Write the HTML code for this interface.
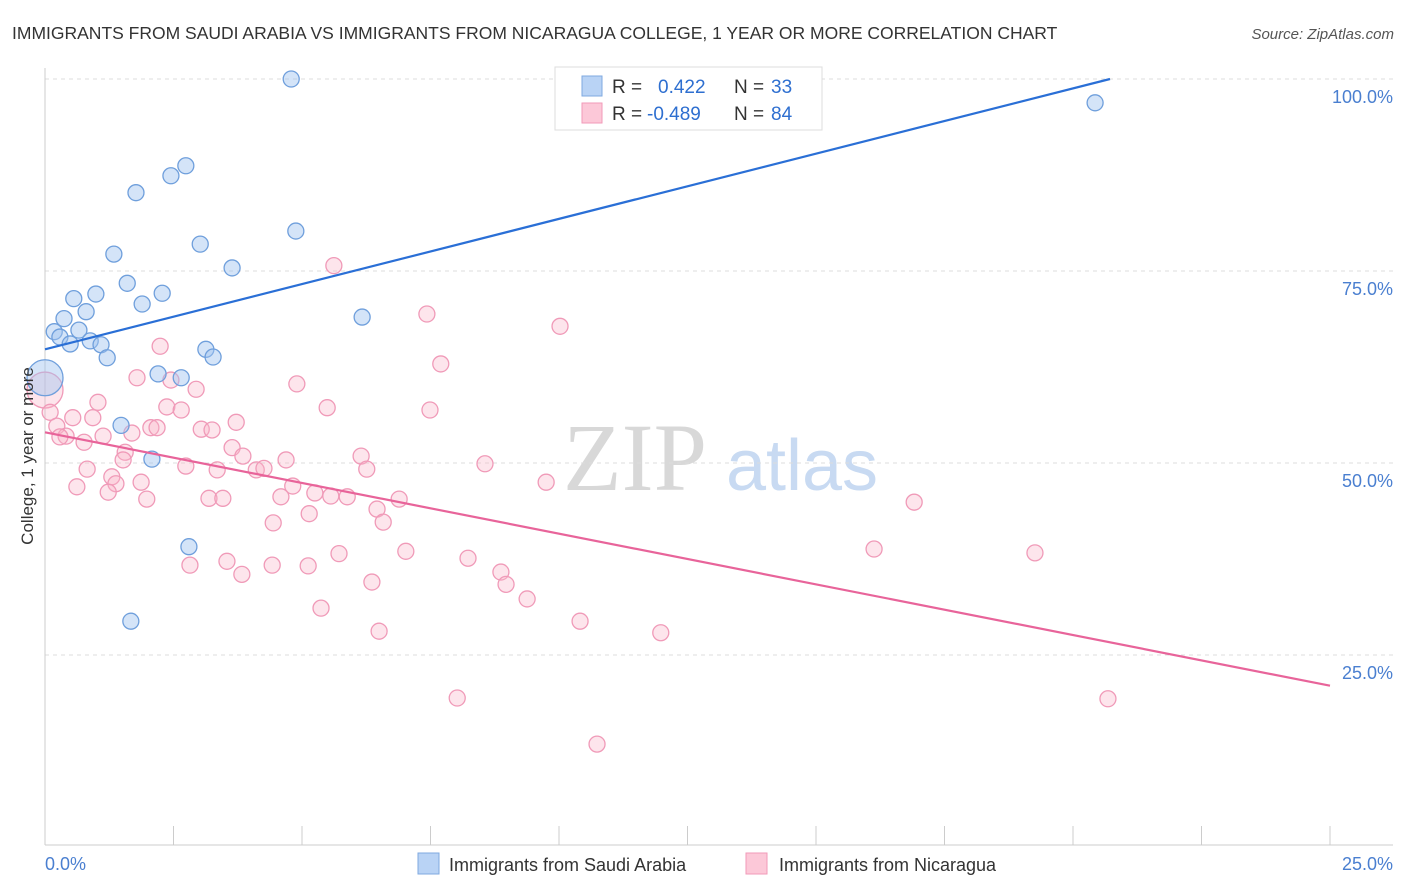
<!DOCTYPE html>
<html><head><meta charset="utf-8">
<style>
body{margin:0;background:#fff;font-family:"Liberation Sans",sans-serif;}
svg{display:block}
</style></head>
<body>
<svg id="chart" width="1406" height="892" viewBox="0 0 1406 892" xmlns="http://www.w3.org/2000/svg">
<text x="12" y="39" font-size="17.5" fill="#333">IMMIGRANTS FROM SAUDI ARABIA VS IMMIGRANTS FROM NICARAGUA COLLEGE, 1 YEAR OR MORE CORRELATION CHART</text>
<text x="1394" y="39" font-size="15" fill="#555" font-style="italic" text-anchor="end">Source: ZipAtlas.com</text>
<g>
<text x="635" y="490" font-size="96" font-family="Liberation Serif,serif" fill="#d8d8d8" text-anchor="middle">ZIP</text>
<text x="802" y="490" font-size="72" fill="#c8daf2" text-anchor="middle">atlas</text>
</g>
<g id="grid"></g>
<g id="axes"></g>
<g id="marks"></g>
<g>
<rect x="555" y="67" width="267" height="63" fill="#fff" stroke="#ddd"/>
<rect x="582" y="76" width="20" height="20" fill="#b9d3f5" stroke="#7fa9e0"/>
<rect x="582" y="103" width="20" height="20" fill="#fcc8d8" stroke="#f29ab8"/>
<text x="612" y="93" font-size="19" fill="#333">R = </text><text x="658" y="93" font-size="19" fill="#2e6fd0">0.422</text>
<text x="734" y="93" font-size="19" fill="#333">N = </text><text x="771" y="93" font-size="19" fill="#2e6fd0">33</text>
<text x="612" y="120" font-size="19" fill="#333">R = </text><text x="647" y="120" font-size="19" fill="#2e6fd0">-0.489</text>
<text x="734" y="120" font-size="19" fill="#333">N = </text><text x="771" y="120" font-size="19" fill="#2e6fd0">84</text>
</g>
<g>
<rect x="418" y="853" width="21" height="21" fill="#b9d3f5" stroke="#7fa9e0"/>
<text x="449" y="871" font-size="18" fill="#333">Immigrants from Saudi Arabia</text>
<rect x="746" y="853" width="21" height="21" fill="#fcc8d8" stroke="#f29ab8"/>
<text x="779" y="871" font-size="18" fill="#333">Immigrants from Nicaragua</text>
</g>
<text transform="translate(33,456) rotate(-90)" font-size="17" fill="#333" text-anchor="middle">College, 1 year or more</text>
</svg>
<script>
const yTicks=[25,50,75,100];
const yTickLabels=["25.0%","50.0%","75.0%","100.0%"];
const xTickVals=[0,2.5,5,7.5,10,12.5,15,17.5,20,22.5,25];
const saudiX=[4.79,20.43,2.74,2.45,1.77,4.88,3.02,1.34,3.64,1.60,0.99,2.28,0.56,1.89,0.80,0.37,6.17,0.18,0.66,0.29,0.88,0.49,1.09,1.21,3.13,3.27,0,2.20,2.65,1.48,2.08,2.80,1.67];
const saudiY=[100.0,96.9,88.7,87.4,85.2,80.2,78.5,77.2,75.4,73.4,72.0,72.1,71.4,70.7,69.7,68.8,69.0,67.1,67.3,66.4,65.9,65.5,65.4,63.7,64.8,63.8,61.1,61.6,61.1,54.9,50.5,39.1,29.4];
const nicX=[5.62,7.43,10.02,2.24,7.70,1.79,2.45,4.90,2.94,0,1.03,2.37,5.49,7.49,2.65,0.10,0.93,0.54,3.72,0.23,3.04,3.25,2.06,2.18,1.69,0.41,0.29,1.13,0.76,3.64,3.85,1.56,1.52,6.15,4.69,8.56,2.74,0.82,3.35,4.11,4.26,6.26,1.30,1.38,1.87,9.75,0.62,4.82,1.23,5.25,5.56,5.88,3.19,3.46,6.89,1.98,4.59,16.91,6.46,5.14,6.58,4.44,7.02,16.13,19.26,5.72,8.23,3.54,2.82,4.42,5.12,8.87,3.83,6.36,8.97,9.38,5.37,10.41,6.50,11.98,8.02,20.68,10.74];
const nicY=[75.7,69.4,67.8,65.2,62.9,61.1,60.8,60.3,59.6,59.5,57.9,57.3,57.2,56.9,56.9,56.6,55.9,55.9,55.3,54.8,54.4,54.3,54.6,54.6,53.9,53.5,53.4,53.5,52.7,52.0,50.9,51.4,50.4,50.9,50.4,49.9,49.6,49.2,49.1,49.1,49.3,49.2,48.2,47.3,47.5,47.5,46.9,47.0,46.2,46.1,45.7,45.6,45.4,45.4,45.3,45.3,45.6,44.9,44.0,43.4,42.3,42.2,38.5,38.8,38.3,38.2,37.6,37.2,36.7,36.7,36.6,35.8,35.5,34.5,34.2,32.3,31.1,29.4,28.1,27.9,19.4,19.3,13.4];
const saudiBig=[26];
const nicBig=[9];
const saudiTrend=[64.8,0.0,20.72,100.0];
const nicTrend=[54.0,0.0,25.0,21.0];

const NS="http://www.w3.org/2000/svg";
function sx(v){return 45+v*51.4;}
function sy(v){return 847-v*7.68;}
function mk(t,a,p){const e=document.createElementNS(NS,t);for(const k in a)e.setAttribute(k,a[k]);p.appendChild(e);return e;}
const grid=document.getElementById('grid'),axes=document.getElementById('axes'),marks=document.getElementById('marks');
yTicks.forEach((v,i)=>{
 const l=mk('line',{x1:45,x2:1393,y1:sy(v),y2:sy(v),stroke:'#dcdcdc','stroke-dasharray':'4,4'},grid);
 
 
 const t=mk('text',{x:1393,y:sy(v)+24,'font-size':18,fill:'#4a7fd0','text-anchor':'end'},axes);
 t.textContent=yTickLabels[i];
 
 
});
const ya=mk('line',{x1:45,x2:45,y1:68,y2:845,stroke:'#ccc'},axes);


const xa=mk('line',{x1:45,x2:1393,y1:845,y2:845,stroke:'#ccc'},axes);


xTickVals.forEach(v=>{
 const t=mk('line',{x1:sx(v),x2:sx(v),y1:826,y2:845,stroke:'#ccc'},axes);
 
 
});
const x0=mk('text',{x:45,y:870,'font-size':18,fill:'#4a7fd0'},axes);x0.textContent='0.0%';


const x1=mk('text',{x:1393,y:870,'font-size':18,fill:'#4a7fd0','text-anchor':'end'},axes);x1.textContent='25.0%';



nicX.forEach((x,i)=>{
 const c=mk('circle',{cx:sx(x),cy:sy(nicY[i]),r:nicBig.includes(i)?18:8,fill:'rgba(248,180,200,0.35)',stroke:'#f09ab8','stroke-width':1.3},marks);
 
 
});
saudiX.forEach((x,i)=>{
 const c=mk('circle',{cx:sx(x),cy:sy(saudiY[i]),r:saudiBig.includes(i)?18:8,fill:'rgba(160,196,240,0.45)',stroke:'#6f9fdc','stroke-width':1.3},marks);
 
 
});
const tb=mk('line',{x1:sx(saudiTrend[1]),y1:sy(saudiTrend[0]),x2:sx(saudiTrend[2]),y2:sy(saudiTrend[3]),stroke:'#2a6fd6','stroke-width':2.2},marks);


const tp=mk('line',{x1:sx(nicTrend[1]),y1:sy(nicTrend[0]),x2:sx(nicTrend[2]),y2:sy(nicTrend[3]),stroke:'#e8649a','stroke-width':2.2},marks);


</script>
</body></html>
